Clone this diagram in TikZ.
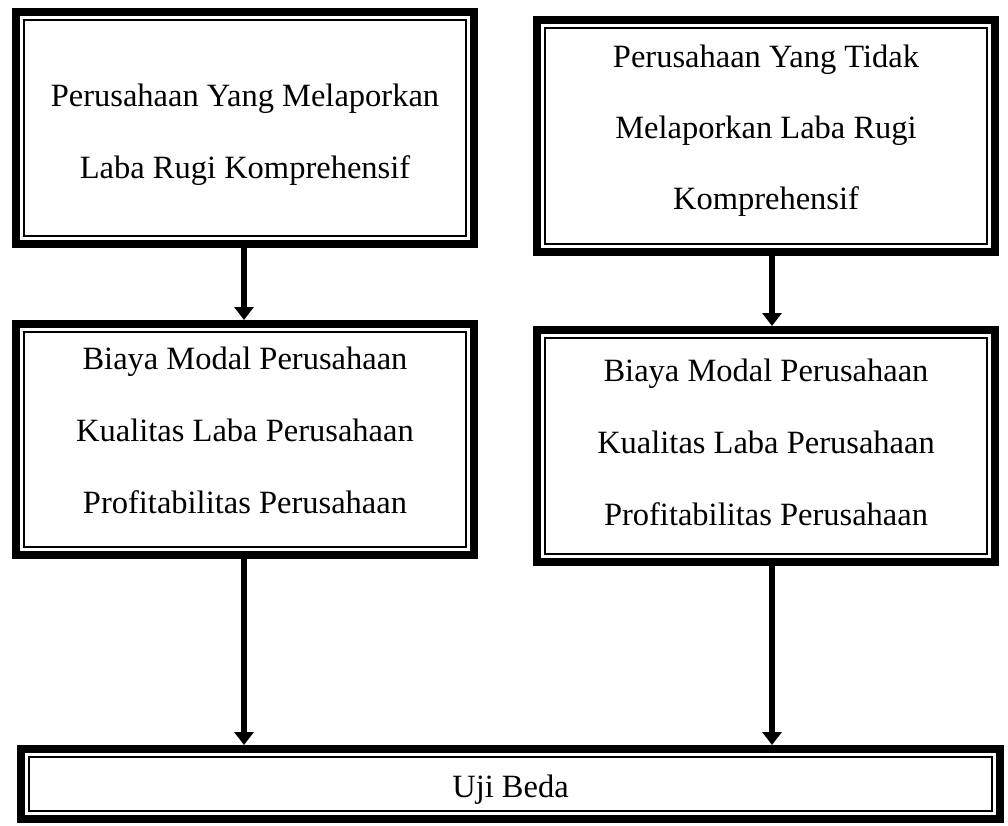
\documentclass[tikz,border=0pt]{standalone}
\usepackage{fontspec}
\setmainfont{Liberation Serif}
\usetikzlibrary{arrows.meta}
\begin{document}
\begin{tikzpicture}[x=1pt,y=-1pt,
  box/.style={rectangle, inner sep=0pt, outer sep=0pt, draw=none},
  txt/.style={inner sep=0pt, anchor=base, font=\fontsize{32.5}{38}\selectfont},
  arr/.style={line width=6.5pt, -{Triangle[width=19pt,length=13pt]}},
  thickrule/.style={line width=8pt},
  thinrule/.style={line width=2.3pt}]
\useasboundingbox (0,0) rectangle (1008,826);
% boxes
\node[box, minimum width=466pt, minimum height=240pt] (b1) at (245,128) {};
\node[box, minimum width=466pt, minimum height=240pt] (b2) at (766,136) {};
\node[box, minimum width=466pt, minimum height=239pt] (b3) at (245,439.5) {};
\node[box, minimum width=466pt, minimum height=240pt] (b4) at (766,446) {};
\node[box, minimum width=987pt, minimum height=78pt] (b5) at (510.5,784) {};
\foreach \n in {b1,b2,b3,b4,b5}{
  \draw[thickrule] ([shift={(4pt,-4pt)}]\n.north west) rectangle ([shift={(-4pt,4pt)}]\n.south east);
  \draw[thinrule] ([shift={(12.15pt,-12.15pt)}]\n.north west) rectangle ([shift={(-12.15pt,12.15pt)}]\n.south east);
}
% texts
\node[txt] (t1a) at (245,107) {Perusahaan Yang Melaporkan};
\node[txt] (t1b) at (245,179) {Laba Rugi Komprehensif};
\node[txt] (t2a) at (766,68) {Perusahaan Yang Tidak};
\node[txt] (t2b) at (766,139) {Melaporkan Laba Rugi};
\node[txt] (t2c) at (766,210) {Komprehensif};
\node[txt] (t3a) at (245,369) {Biaya Modal Perusahaan};
\node[txt] (t3b) at (245,441) {Kualitas Laba Perusahaan};
\node[txt] (t3c) at (245,513) {Profitabilitas Perusahaan};
\node[txt] (t4a) at (766,381) {Biaya Modal Perusahaan};
\node[txt] (t4b) at (766,453) {Kualitas Laba Perusahaan};
\node[txt] (t4c) at (766,525) {Profitabilitas Perusahaan};
\node[txt] (t5) at (510.5,797) {Uji Beda};
% arrows
\draw[arr] ([xshift=-1pt]b1.south) -- ([xshift=-1pt]b1.south |- b3.north);
\draw[arr] ([xshift=6pt]b2.south) -- ([xshift=6pt]b2.south |- b4.north);
\draw[arr] ([xshift=-1pt]b3.south) -- ([xshift=-1pt]b3.south |- b5.north);
\draw[arr] ([xshift=6pt]b4.south) -- ([xshift=6pt]b4.south |- b5.north);
\end{tikzpicture}
\end{document}
